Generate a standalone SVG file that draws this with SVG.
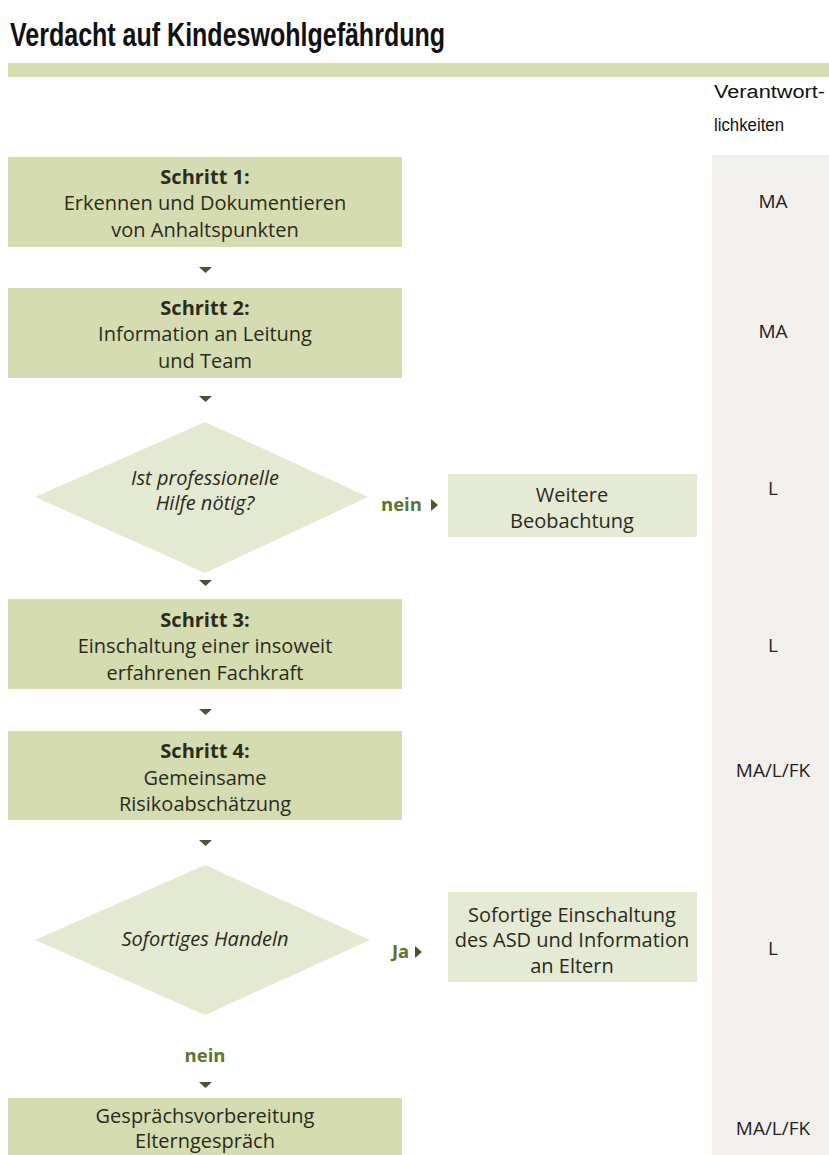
<svg xmlns="http://www.w3.org/2000/svg" width="829" height="1155" viewBox="0 0 829 1155">
<style>
.box{fill:#d5dcb2}
.lbox{fill:#e5ead4}
.dia{fill:#e4e9d1}
.t{font-family:"Open Sans","Noto Sans",sans-serif;font-size:20px;fill:#2b2b1c;text-anchor:middle}
.b{font-weight:bold}
.i{font-style:italic}
.lab{font-family:"Open Sans","Noto Sans",sans-serif;font-size:18.5px;font-weight:bold;fill:#5b7530}
.arr{fill:#4e5234}
.r{font-family:"Open Sans","Noto Sans",sans-serif;font-size:19px;fill:#222;text-anchor:middle}
.h{font-family:"Liberation Sans",Arial,sans-serif;fill:#111}
</style>
<rect width="829" height="1155" fill="#ffffff"/>
<g id="header">
<text class="h" x="10" y="46" font-size="33" font-weight="bold" textLength="435" lengthAdjust="spacingAndGlyphs">Verdacht auf Kindeswohlgefährdung</text>
<rect x="8" y="63" width="821" height="14" fill="#d5dfb1"/>
<text class="h" x="714" y="98" font-size="18" textLength="111" lengthAdjust="spacingAndGlyphs">Verantwort-</text>
<text class="h" x="714" y="131" font-size="18" textLength="70" lengthAdjust="spacingAndGlyphs">lichkeiten</text>
</g>
<g id="responsibilities">
<rect x="712" y="155" width="117" height="1000" fill="#f2efec"/>
<rect x="712" y="155" width="117" height="14" fill="#f0f0ed"/>
<text class="r" x="773" y="208">MA</text>
<text class="r" x="773" y="338">MA</text>
<text class="r" x="773" y="495">L</text>
<text class="r" x="773" y="652">L</text>
<text class="r" x="773" y="777">MA/L/FK</text>
<text class="r" x="773" y="955">L</text>
<text class="r" x="773" y="1135">MA/L/FK</text>
</g>
<g id="step1">
<rect class="box" x="8" y="157" width="394" height="90"/>
<text class="t b" x="205" y="184">Schritt 1:</text>
<text class="t" x="205" y="210">Erkennen und Dokumentieren</text>
<text class="t" x="205" y="237">von Anhaltspunkten</text>
</g>
<g id="step2">
<rect class="box" x="8" y="288" width="394" height="90"/>
<text class="t b" x="205" y="315">Schritt 2:</text>
<text class="t" x="205" y="341">Information an Leitung</text>
<text class="t" x="205" y="368">und Team</text>
</g>
<g id="decision1">
<polygon class="dia" points="205,422 368,497 205,573 35,497"/>
<text class="t i" x="205" y="485">Ist professionelle</text>
<text class="t i" x="205" y="510">Hilfe nötig?</text>
</g>
<g id="observe">
<rect class="lbox" x="448" y="474" width="249" height="63"/>
<text class="t" x="572" y="502">Weitere</text>
<text class="t" x="572" y="528">Beobachtung</text>
</g>
<g id="step3">
<rect class="box" x="8" y="599" width="394" height="90"/>
<text class="t b" x="205" y="627">Schritt 3:</text>
<text class="t" x="205" y="653">Einschaltung einer insoweit</text>
<text class="t" x="205" y="680">erfahrenen Fachkraft</text>
</g>
<g id="step4">
<rect class="box" x="8" y="731" width="394" height="89"/>
<text class="t b" x="205" y="758">Schritt 4:</text>
<text class="t" x="205" y="785">Gemeinsame</text>
<text class="t" x="205" y="811">Risikoabschätzung</text>
</g>
<g id="decision2">
<polygon class="dia" points="205,865 370,940 205,1015 35,940"/>
<text class="t i" x="205" y="946">Sofortiges Handeln</text>
</g>
<g id="asd">
<rect class="lbox" x="448" y="892" width="249" height="90"/>
<text class="t" x="572" y="922">Sofortige Einschaltung</text>
<text class="t" x="572" y="947">des ASD und Information</text>
<text class="t" x="572" y="973">an Eltern</text>
</g>
<g id="step5">
<rect class="box" x="8" y="1098" width="394" height="57"/>
<text class="t" x="205" y="1123">Gesprächsvorbereitung</text>
<text class="t" x="205" y="1148">Elterngespräch</text>
</g>
<g id="connectors">
<polygon class="arr" points="199,267 212,267 205.5,273"/>
<polygon class="arr" points="199,396 212,396 205.5,402"/>
<polygon class="arr" points="199,580 212,580 205.5,586"/>
<polygon class="arr" points="199,709 212,709 205.5,715"/>
<polygon class="arr" points="199,840 212,840 205.5,846"/>
<polygon class="arr" points="199,1082 212,1082 205.5,1088"/>
<text class="lab" x="381" y="511">nein</text>
<polygon class="arr" points="431,499 438,505 431,511"/>
<text class="lab" x="392" y="958">Ja</text>
<polygon class="arr" points="415,946 422,952 415,958"/>
<text class="lab" x="205" y="1062" text-anchor="middle">nein</text>
</g>
</svg>
